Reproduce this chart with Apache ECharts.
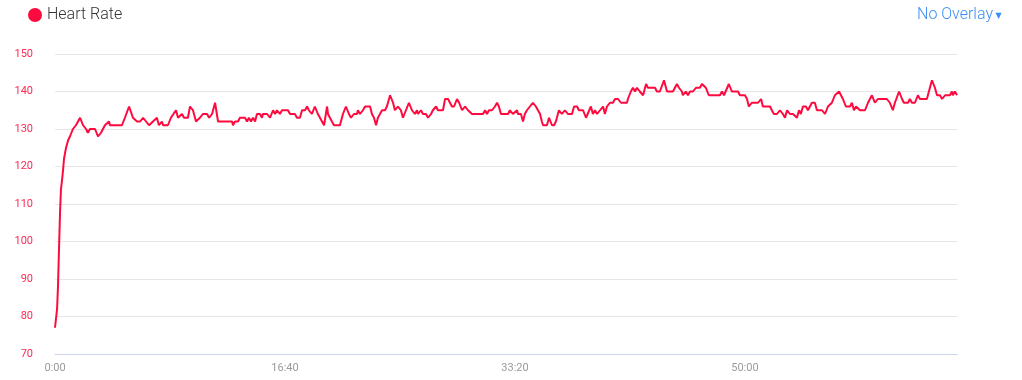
<!DOCTYPE html>
<html>
<head>
<meta charset="utf-8">
<script src="https://cdn.jsdelivr.net/npm/echarts@6/dist/echarts.min.js"></script>
<style>
html,body{margin:0;padding:0;background:#fff;}
#chart{width:1022px;height:380px;}
</style>
</head>
<body>
<div id="chart"></div>
<script>
// Elapsed time in seconds
const times = [0,9,13,17,22,26,30,35,39,48,57,65,78,91,100,109,122,135,143,152,174,187,200,217,235,239,291,304,322,339,357,370,383,396,409,426,443,452,465,470,491,504,526,535,552,561,578,587,600,613,630,643,661,670,683,696,709,770,774,783,796,804,826,835,843,852,861,870,878,891,900,904,922,935,948,957,965,978,987,1013,1022,1043,1052,1065,1074,1087,1096,1104,1117,1130,1143,1161,1170,1183,1187,1204,1213,1239,1252,1265,1278,1287,1300,1313,1317,1326,1339,1348,1370,1378,1387,1396,1404,1422,1435,1443,1457,1470,1478,1491,1504,1513,1526,1539,1552,1565,1574,1578,1591,1600,1613,1622,1635,1643,1657,1665,1687,1696,1709,1726,1735,1748,1757,1770,1783,1796,1813,1861,1870,1878,1887,1900,1913,1922,1930,1939,1970,1978,1991,2009,2013,2026,2035,2043,2052,2065,2078,2091,2100,2109,2117,2122,2139,2148,2161,2170,2178,2191,2204,2217,2230,2248,2257,2270,2278,2296,2309,2317,2330,2339,2348,2357,2361,2370,2383,2391,2400,2413,2426,2435,2448,2461,2487,2491,2504,2513,2522,2530,2543,2557,2570,2578,2609,2617,2630,2648,2661,2687,2704,2713,2726,2730,2743,2752,2761,2774,2787,2804,2813,2817,2830,2843,2891,2900,2909,2930,2943,2970,2978,3000,3009,3017,3030,3057,3070,3078,3109,3117,3126,3139,3152,3165,3174,3183,3196,3209,3226,3235,3243,3252,3265,3274,3291,3304,3313,3335,3348,3361,3378,3391,3409,3426,3439,3457,3465,3474,3483,3491,3500,3522,3535,3552,3565,3578,3617,3630,3643,3652,3670,3683,3691,3709,3717,3726,3739,3752,3761,3791,3813,3826,3835,3848,3857,3861,3870,3891,3900,3904,3913,3922];
// Heart rate (bpm)
const heartRate = [77,82,88,97,108,114,116,119,122,125,127,128,130,131,132,133,131,130,129,130,130,128,129,131,132,131,131,133,136,133,132,132,133,132,131,132,133,131,132,131,131,133,135,133,134,133,133,136,135,132,133,134,134,133,134,137,132,132,131,132,132,133,133,132,133,132,133,132,134,134,133,134,134,133,135,134,135,134,135,135,134,134,133,133,135,135,136,135,134,136,134,132,131,136,134,132,131,131,134,136,134,133,134,134,135,134,135,136,136,134,133,131,133,135,135,136,139,137,135,136,135,133,135,137,135,134,135,134,135,134,134,133,134,135,136,135,135,138,138,136,136,138,137,135,136,135,134,134,135,134,135,135,136,137,136,134,134,135,134,135,134,134,132,134,135,136,137,136,135,134,132,131,131,133,131,131,132,135,134,135,134,134,136,136,135,135,133,133,136,134,135,134,134,135,136,134,136,137,137,138,138,137,137,138,140,141,140,141,140,139,142,141,141,140,140,143,140,140,142,141,140,139,140,139,140,140,141,141,142,142,141,139,139,140,139,142,140,140,139,139,138,136,137,137,138,136,136,135,134,134,135,134,133,135,134,134,133,135,134,136,136,135,137,137,135,135,134,136,137,139,140,138,136,136,137,135,136,136,135,135,137,139,137,138,138,137,135,137,140,138,137,137,138,137,137,139,138,138,143,141,139,139,138,138,139,139,140,139,140,139];
const yMin = 70, yMax = 150, yStep = 10;
const xStep = 1000;
const seriesName = 'Heart Rate';
const overlayLabel = 'No Overlay';

const data = times.map((t, i) => [t, heartRate[i]]);
function fmt(s) {
  const m = Math.floor(s / 60), sec = Math.round(s % 60);
  return m + ':' + (sec < 10 ? '0' : '') + sec;
}
const chart = echarts.init(document.getElementById('chart'), null, {renderer: 'canvas'});
const lineColor = '#ff0a3f';
chart.setOption({
  animation: false,
  textStyle: {fontFamily: 'Roboto, "Open Sans", sans-serif'},
  grid: {left: 55, right: 65, top: 54, bottom: 26, containLabel: false},
  legend: {
    left: 23, top: 2,
    icon: 'circle', itemWidth: 14, itemHeight: 14, itemGap: 6,
    textStyle: {fontSize: 16, color: '#333', fontWeight: 300, fontFamily: 'Roboto, sans-serif', padding: [0, 0, 0, 0]},
    data: [seriesName]
  },
  graphic: [{
    type: 'text', x: 993, y: 15,
    style: {text: overlayLabel, fontSize: 16, fill: '#3d8ff5', fontWeight: 300, fontFamily: 'Roboto, sans-serif', align: 'right', verticalAlign: 'middle'}
  }, {
    type: 'text', x: 998.5, y: 16,
    style: {text: '\u25BC', fontSize: 8, fill: '#3d8ff5', fontFamily: 'DejaVu Sans, sans-serif', align: 'center', verticalAlign: 'middle'}
  }],
  xAxis: {
    type: 'value', min: 0, max: times[times.length - 1], interval: xStep,
    axisLine: {show: true, lineStyle: {color: '#ccd6eb', width: 1}},
    axisTick: {show: false},
    splitLine: {show: false},
    axisLabel: {color: '#9a9a9a', fontSize: 11, margin: 9, showMaxLabel: false, formatter: v => fmt(v)}
  },
  yAxis: {
    type: 'value', min: yMin, max: yMax, interval: yStep,
    axisLine: {show: false}, axisTick: {show: false},
    splitLine: {lineStyle: {color: '#e6e6e6', width: 1}},
    axisLabel: {color: '#ff2a55', fontSize: 11, margin: 22}
  },
  series: [{
    name: seriesName, type: 'line', data: data,
    showSymbol: false, symbol: 'circle',
    lineStyle: {color: lineColor, width: 2},
    itemStyle: {color: lineColor},
    smooth: false
  }]
});
</script>
</body>
</html>
